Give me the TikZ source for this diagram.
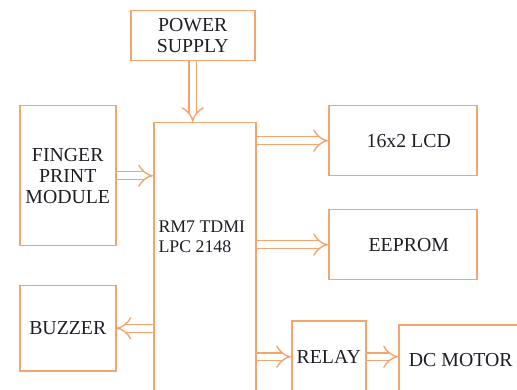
\documentclass[tikz,border=0pt]{standalone}
\usepackage{fontspec}
\setmainfont{Liberation Serif}
\newfontfamily\tms{Liberation Serif}
\usetikzlibrary{arrows.meta,positioning}
\definecolor{edge}{HTML}{F4A56E}
\definecolor{ink}{HTML}{1E1E28}

\begin{document}
\begin{tikzpicture}[x=1pt,y=-1pt, every node/.style={font=\tms\fontsize{19.8}{21}\selectfont,text=ink,align=center},
  box/.style={draw=edge,line width=1.5pt,fill=white,inner sep=0pt,anchor=north west},
  arr/.style={draw=edge,line width=1.4pt,double=white,double distance=6.5pt,-{Implies}}]
  \useasboundingbox (0,0) rectangle (517,390);
  \clip (0,0) rectangle (517,390);
  \node[box,minimum width=124pt,minimum height=50pt] (pwr) at (130,10) {POWER\\SUPPLY};
  \node[box,minimum width=102pt,minimum height=280pt] (cpu) at (153,122) {};
  \node[anchor=west,align=left,font=\tms\fontsize{17.8}{20}\selectfont] (cpulbl) at (155,237) {RM7 TDMI\\LPC 2148};
  \node[box,minimum width=96pt,minimum height=140pt] (fp) at (19,105) {FINGER\\PRINT\\MODULE};
  \node[box,minimum width=96pt,minimum height=85pt] (bz) at (19,285) {BUZZER};
  \node[box,minimum width=148pt,minimum height=70pt] (lcd) at (328,105) {\hspace{12pt}16x2 LCD};
  \node[box,minimum width=148pt,minimum height=70pt] (eep) at (328,209) {\hspace{12pt}EEPROM};
  \node[box,minimum width=74pt,minimum height=72pt] (rly) at (291,320) {RELAY};
  \node[box,minimum width=124pt,minimum height=70pt] (mot) at (398,324) {DC MOTOR};
  % connections
  \draw[arr] (pwr.south) -- (pwr.south |- cpu.north);
  \draw[arr] (fp.east) -- (fp.east -| cpu.west);
  \draw[arr] (cpu.west |- bz.east) -- (bz.east);
  \draw[arr] (cpu.east |- lcd.west) -- (lcd.west);
  \draw[arr] (cpu.east |- eep.west) -- (eep.west);
  \draw[arr] (cpu.east |- rly.west) -- (rly.west);
  \draw[arr] (rly.east) -- (rly.east -| mot.west);
\end{tikzpicture}
\end{document}
